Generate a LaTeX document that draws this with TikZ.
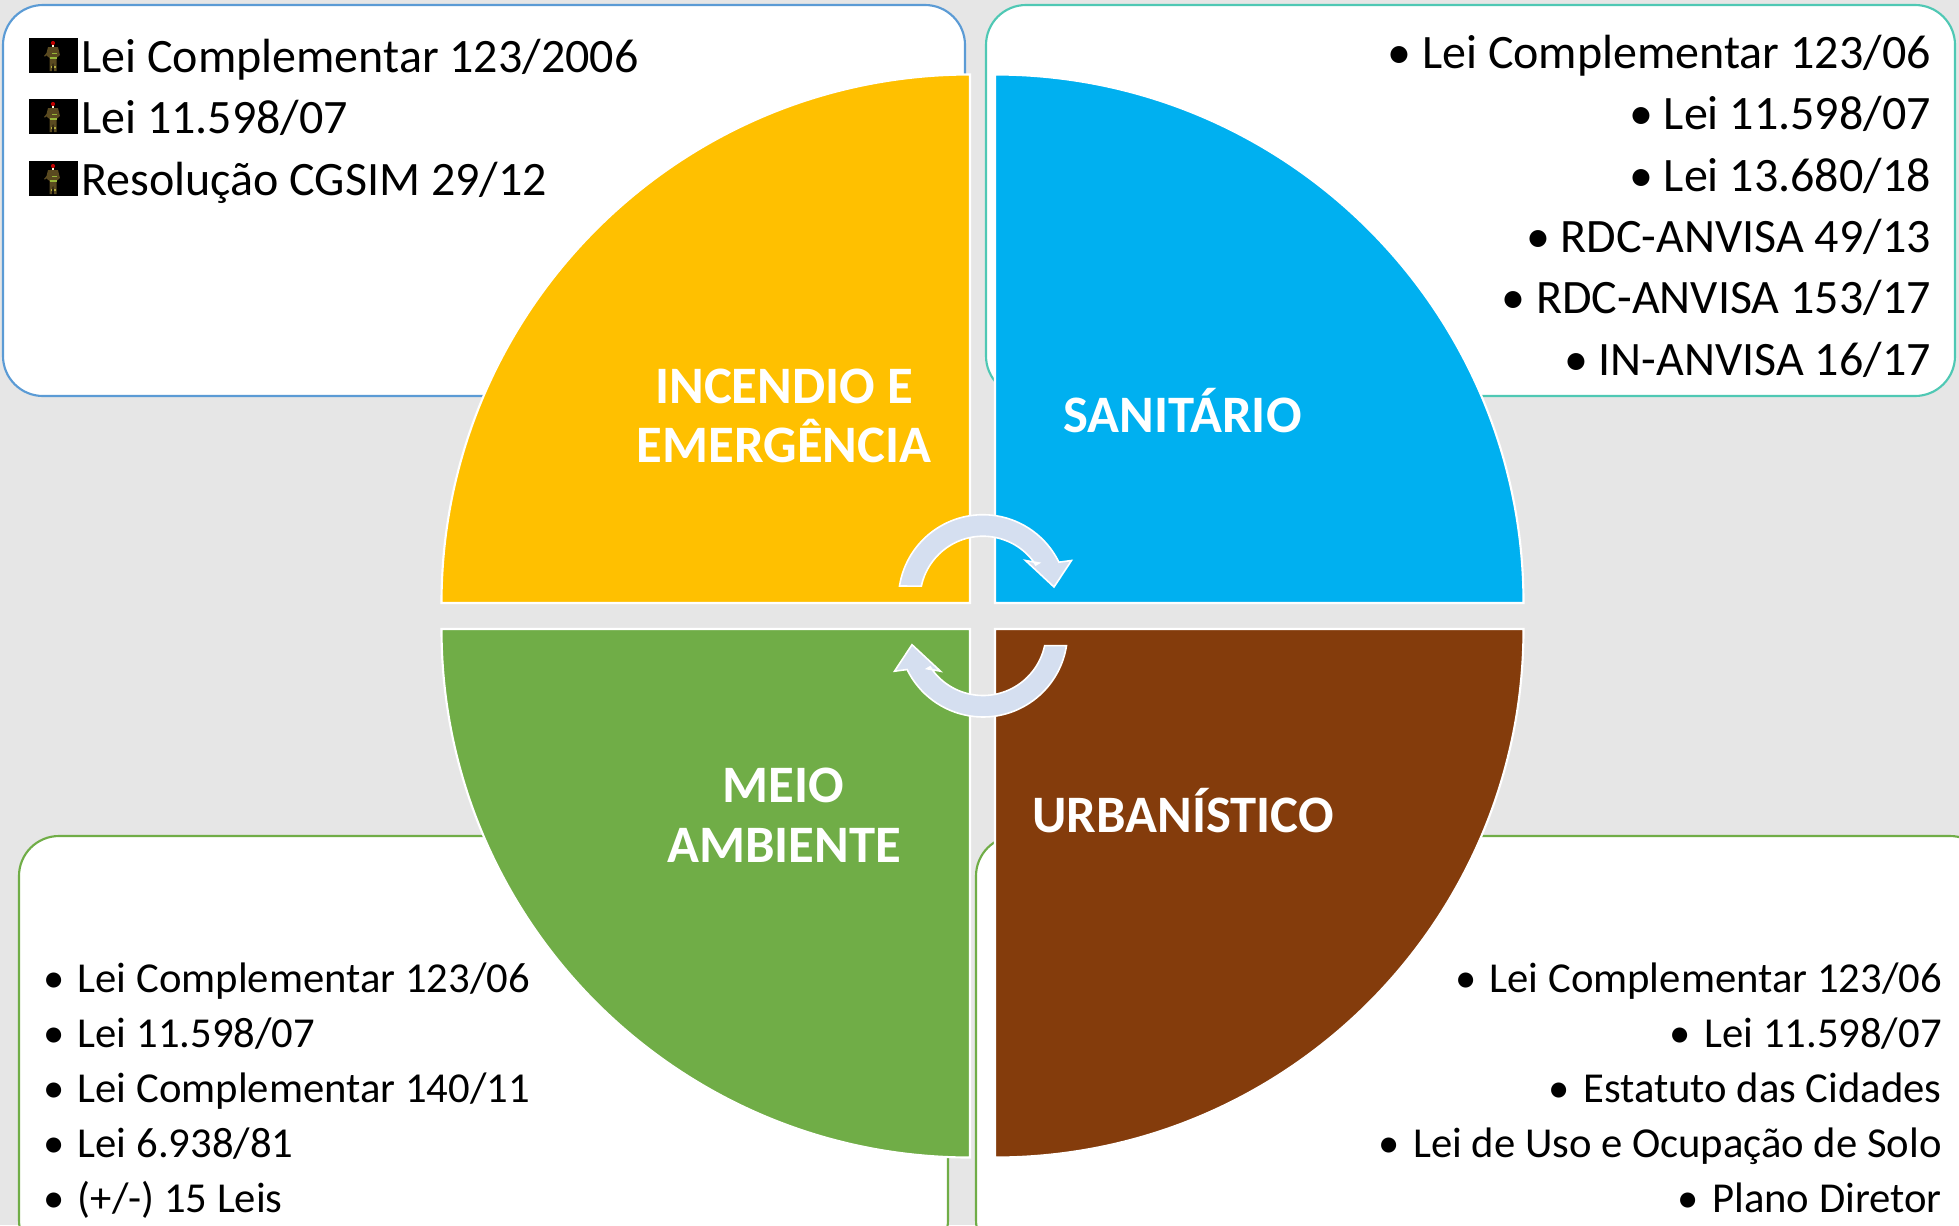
\documentclass[tikz,border=0pt]{standalone}
\usepackage{fontspec}
\setmainfont{Carlito}
\definecolor{bgc}{HTML}{E6E6E6}
\definecolor{yel}{HTML}{FFC000}
\definecolor{blu}{HTML}{00B0F0}
\definecolor{grn}{HTML}{70AD47}
\definecolor{brn}{HTML}{843C0C}
\definecolor{arrowc}{HTML}{D5DFF0}
\definecolor{tlc}{HTML}{5B9BD5}
\definecolor{trc}{HTML}{4FC8B4}
\definecolor{suit}{HTML}{5A4A20}
\tikzset{
 panel/.style={fill=white,draw=#1,line width=1.6pt,rounded corners=30pt},
 sector/.style={fill=#1,draw=white,line width=1.6pt,line join=miter},
 turn/.style={fill=arrowc,draw=white,line width=1.2pt,line join=miter},
 heading/.style={text=white,font=\fontsize{39.5}{40}\selectfont\bfseries,anchor=base,inner sep=0pt},
 bigleft/.style={text=black,font=\fontsize{36}{36}\selectfont,anchor=base west,inner sep=0pt},
 bigright/.style={text=black,font=\fontsize{36}{36}\selectfont,anchor=base east,inner sep=0pt},
 smallleft/.style={text=black,font=\fontsize{32}{32}\selectfont,anchor=base west,inner sep=0pt},
 smallright/.style={text=black,font=\fontsize{32}{32}\selectfont,anchor=base east,inner sep=0pt}
}
\newcommand{\fireicon}[2]{%
 \begin{scope}[shift={(#1,#2)}]
  \fill[black] (0,0) rectangle (49,35);
  \fill[suit] (19,9) -- (29,9) -- (31,17) -- (27.5,20) -- (27.5,33) -- (25,33) -- (24,23) -- (23,33) -- (20.5,33) -- (20.5,20) -- (17,17) -- cycle;
  \fill[suit] (17.5,15) -- (15,18) -- (16,18.5) -- (19,16) -- cycle;
  \fill[red!75!black] (24,5) circle (2.1);
  \fill[yellow!65!green!80!black] (21,19) rectangle (27.5,20.5);
  \fill[yellow!65!green!80!black] (23,14.5) rectangle (28,16);
  \fill[yellow!65!black] (21.5,28) rectangle (23,29.5);
  \fill[yellow!65!black] (25,28) rectangle (27,29.5);
  \fill[white!85!yellow] (23,7.2) rectangle (25,8.8);
 \end{scope}}
\begin{document}
\begin{tikzpicture}[x=0.75pt,y=-0.75pt]
\clip (0,0) rectangle (1959,1225);
\fill[bgc] (0,0) rectangle (1959,1225);
% panels
\draw[panel=tlc] (3,5) rectangle (965,396);
\draw[panel=trc] (986,5) rectangle (1955,396);
\draw[panel=grn] (19,836) rectangle (948,1260);
\draw[panel=grn] (976,836) rectangle (1990,1260);
% sectors
\draw[sector=yel] (970,603) -- (441.5,603) arc[start angle=180,end angle=270,radius=528.5] -- cycle;
\draw[sector=blu] (995,603) -- (995,74.5) arc[start angle=270,end angle=360,radius=528.5] -- cycle;
\draw[sector=brn] (995,629) -- (1523.5,629) arc[start angle=0,end angle=90,radius=528.5] -- cycle;
\draw[sector=grn] (970,629) -- (970,1157.5) arc[start angle=90,end angle=180,radius=528.5] -- cycle;
% turning arrows
\draw[turn] (899.5,586) arc[start angle=189,end angle=334,radius=84.5] -- (1071.5,560.5) -- (1054,587) -- (1025.5,560.5) -- (1039,563) -- (1035.8,564.9) arc[start angle=327,end angle=192,radius=63] -- cycle;
\begin{scope}[rotate around={180:(983,615.85)}]
\draw[turn] (899.5,586) arc[start angle=189,end angle=334,radius=84.5] -- (1071.5,560.5) -- (1054,587) -- (1025.5,560.5) -- (1039,563) -- (1035.8,564.9) arc[start angle=327,end angle=192,radius=63] -- cycle;
\end{scope}
% headings
\node[heading] (h1) at (784,403) {INCENDIO E};
\node[heading] (h2) at (784,462) {EMERGÊNCIA};
\node[heading] (h3) at (1182.5,432) {SANITÁRIO};
\node[heading] (h4) at (783.5,802) {MEIO};
\node[heading] (h5) at (784,862) {AMBIENTE};
\node[heading] (h6) at (1183,832) {URBANÍSTICO};
% top-left
\fireicon{29}{38}\fireicon{29}{99}\fireicon{29}{161}
\node[bigleft] (a1) at (81,72) {Lei Complementar 123/2006};
\node[bigleft] (a2) at (81,133.5) {Lei 11.598/07};
\node[bigleft] (a3) at (81,195.5) {Resolução CGSIM 29/12};
% top-right
\newcommand{\gapb}{\hskip 8pt}
\node[bigright] (b1) at (1931,68.5) {•\gapb Lei Complementar 123/06};
\node[bigright] (b2) at (1931,129.5) {•\gapb Lei 11.598/07};
\node[bigright] (b3) at (1931,191.5) {•\gapb Lei 13.680/18};
\node[bigright] (b4) at (1931,252.5) {•\gapb RDC-ANVISA 49/13};
\node[bigright] (b5) at (1931,313.5) {•\gapb RDC-ANVISA 153/17};
\node[bigright] (b6) at (1931,375.5) {•\gapb IN-ANVISA 16/17};
% bottom-left
\newcommand{\gapc}{\hskip 10pt}
\node[smallleft] (c1) at (43,992.5) {•\gapc Lei Complementar 123/06};
\node[smallleft] (c2) at (43,1047.5) {•\gapc Lei 11.598/07};
\node[smallleft] (c3) at (43,1102) {•\gapc Lei Complementar 140/11};
\node[smallleft] (c4) at (43,1157.5) {•\gapc Lei 6.938/81};
\node[smallleft] (c5) at (43,1212) {•\gapc (+/-) 15 Leis};
% bottom-right
\node[smallright] (d1) at (1942,992.5) {•\gapc Lei Complementar 123/06};
\node[smallright] (d2) at (1942,1047.5) {•\gapc Lei 11.598/07};
\node[smallright] (d3) at (1942,1102) {•\gapc Estatuto das Cidades};
\node[smallright] (d4) at (1942,1157.5) {•\gapc Lei de Uso e Ocupação de Solo};
\node[smallright] (d5) at (1942,1212) {•\gapc Plano Diretor};
\end{tikzpicture}
\end{document}
